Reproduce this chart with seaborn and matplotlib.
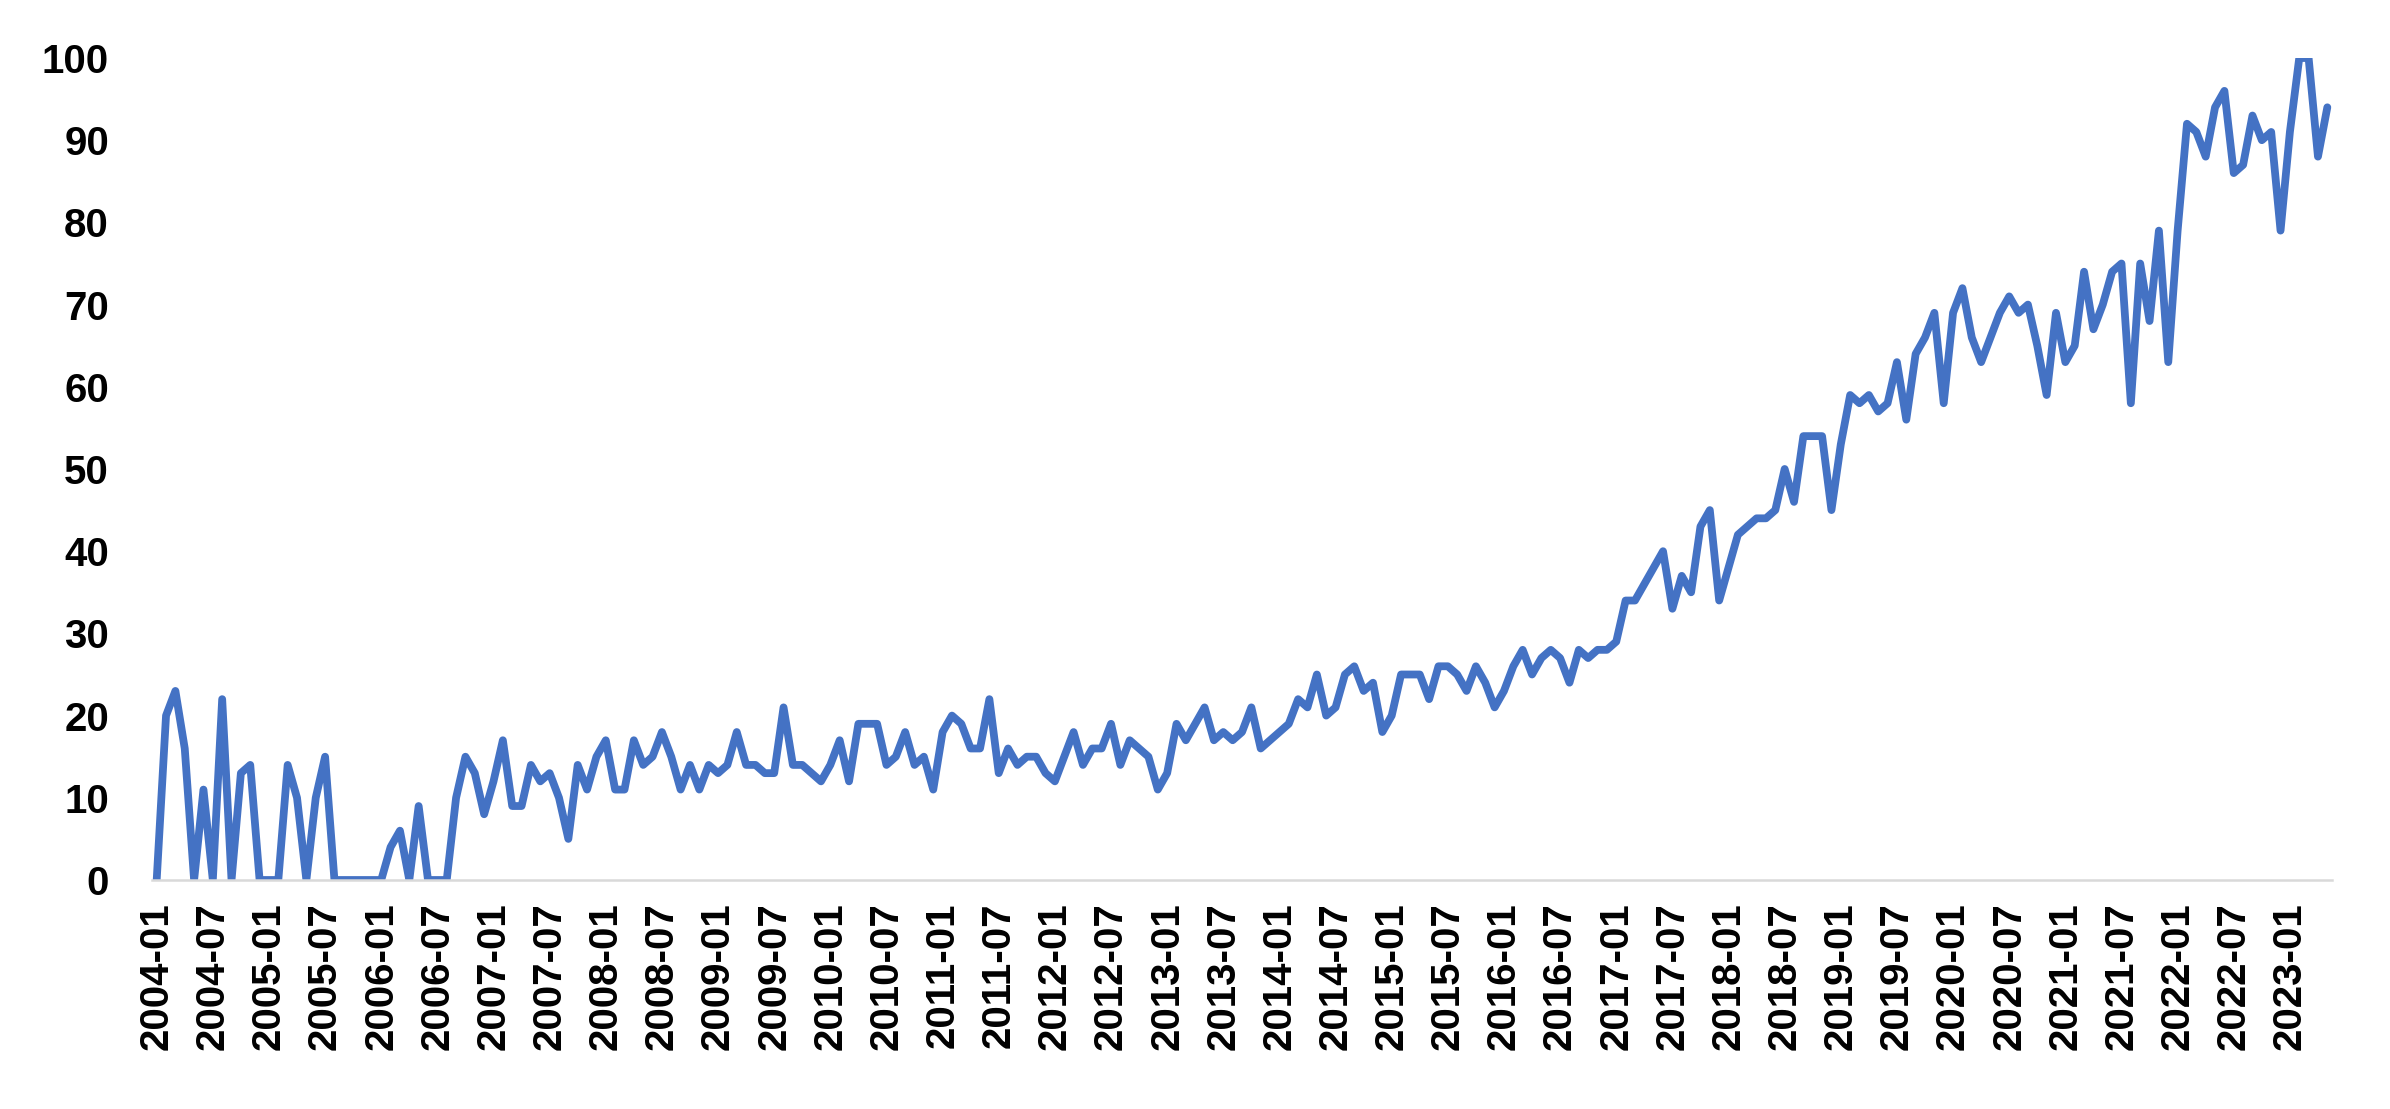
import numpy as np
import pandas as pd
import matplotlib.pyplot as plt
import seaborn as sns

# monthly index values, 2004-01 .. 2023-05
y2004 = [0, 20, 23, 16, 0, 11, 0, 22, 0, 13, 14, 0]
y2005 = [0, 0, 14, 10, 0, 10, 15, 0, 0, 0, 0, 0]
y2006 = [0, 4, 6, 0, 9, 0, 0, 0, 10, 15, 13, 8]
y2007 = [12, 17, 9, 9, 14, 12, 13, 10, 5, 14, 11, 15]
y2008 = [17, 11, 11, 17, 14, 15, 18, 15, 11, 14, 11, 14]
y2009 = [13, 14, 18, 14, 14, 13, 13, 21, 14, 14, 13, 12]
y2010 = [14, 17, 12, 19, 19, 19, 14, 15, 18, 14, 15, 11]
y2011 = [18, 20, 19, 16, 16, 22, 13, 16, 14, 15, 15, 13]
y2012 = [12, 15, 18, 14, 16, 16, 19, 14, 17, 16, 15, 11]
y2013 = [13, 19, 17, 19, 21, 17, 18, 17, 18, 21, 16, 17]
y2014 = [18, 19, 22, 21, 25, 20, 21, 25, 26, 23, 24, 18]
y2015 = [20, 25, 25, 25, 22, 26, 26, 25, 23, 26, 24, 21]
y2016 = [23, 26, 28, 25, 27, 28, 27, 24, 28, 27, 28, 28]
y2017 = [29, 34, 34, 36, 38, 40, 33, 37, 35, 43, 45, 34]
y2018 = [38, 42, 43, 44, 44, 45, 50, 46, 54, 54, 54, 45]
y2019 = [53, 59, 58, 59, 57, 58, 63, 56, 64, 66, 69, 58]
y2020 = [69, 72, 66, 63, 66, 69, 71, 69, 70, 65, 59, 69]
y2021 = [63, 65, 74, 67, 70, 74, 75, 58, 75, 68, 79, 63]
y2022 = [79, 92, 91, 88, 94, 96, 86, 87, 93, 90, 91, 79]
y2023 = [91, 100, 100, 88, 94]

values = (y2004 + y2005 + y2006 + y2007 + y2008 + y2009 + y2010 + y2011 + y2012
          + y2013 + y2014 + y2015 + y2016 + y2017 + y2018 + y2019 + y2020
          + y2021 + y2022 + y2023)
months = list(pd.period_range('2004-01', periods=len(values), freq='M').strftime('%Y-%m'))
tick_labels = months[::6]

df = pd.DataFrame({'idx': np.arange(len(values)), 'month': months, 'value': values})

sns.set_theme(style='white')
plt.rcParams['font.family'] = ['Liberation Sans', 'DejaVu Sans']

W, H = 2390, 1109
fig = plt.figure(figsize=(W / 100, H / 100), dpi=100)
ax = fig.add_axes([152 / W, 1 - 880 / H, (2332 - 152) / W, (880 - 58) / H])

sns.lineplot(data=df, x='idx', y='value', ax=ax, color='#4472C4', linewidth=5.6)

ax.set_xlim(-0.5, len(values) - 0.5)
ax.set_ylim(0, 100)
ax.set_yticks(range(0, 101, 10))
ax.set_xticks(df['idx'][::6])
ax.set_xticklabels(tick_labels, rotation=90)
ax.set_xlabel('')
ax.set_ylabel('')

for side in ['top', 'right', 'left']:
    ax.spines[side].set_visible(False)
ax.spines['bottom'].set_color('#D9D9D9')
ax.spines['bottom'].set_linewidth(1.8)

ax.tick_params(length=0, labelsize=29, colors='black')
ax.tick_params(axis='y', pad=31)
ax.tick_params(axis='x', pad=16)
for lab in ax.get_xticklabels() + ax.get_yticklabels():
    lab.set_fontweight('bold')

fig.savefig('out.png', dpi=100)
